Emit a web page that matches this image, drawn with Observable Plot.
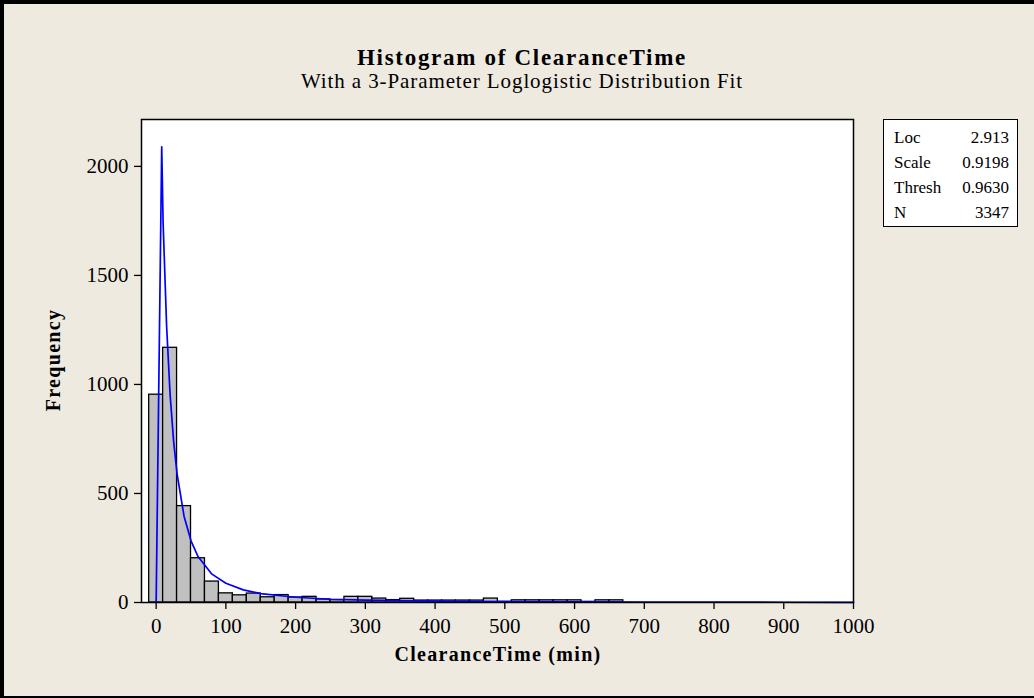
<!DOCTYPE html>
<html>
<head>
<meta charset="utf-8">
<script src="https://cdn.jsdelivr.net/npm/d3@7"></script>
<script src="https://cdn.jsdelivr.net/npm/@observablehq/plot@0.6"></script>
<style>
  html, body { margin: 0; padding: 0; }
  body { width: 1034px; height: 698px; background: #eeeae0; position: relative; overflow: hidden;
         font-family: "Liberation Serif", "Times New Roman", serif; color: #000; }
  #border { position: absolute; left: 0; top: 0; width: 1034px; height: 698px; box-sizing: border-box;
            border-left: 4px solid #000; border-top: 4px solid #000; border-bottom: 2px solid #000; pointer-events: none; }
  #chart { position: absolute; left: 0; top: 0; }
  .title { position: absolute; left: 0; width: 1044px; text-align: center; white-space: nowrap; }
  #t1 { top: 45px; font-size: 23px; font-weight: bold; letter-spacing: 1.7px; }
  #t2 { top: 69px; font-size: 21px; letter-spacing: 0.9px; }
  #xlab { position: absolute; left: 141px; width: 714px; top: 643px; text-align: center; font-size: 20px; font-weight: bold; letter-spacing: 1.3px; }
  #ylab { position: absolute; left: 53px; top: 360px; transform: translate(-50%, -50%) rotate(-90deg); font-size: 20px; font-weight: bold; letter-spacing: 1.3px; white-space: nowrap; }
  #legend { position: absolute; left: 883px; top: 119px; width: 135px; height: 108px; box-sizing: border-box; border: 1.5px solid #000;
            background: #fff; padding: 5px 8px 0 10px; font-size: 17px; line-height: 25px; }
  #legend .row { display: flex; justify-content: space-between; }
</style>
</head>
<body>
<div id="chart"></div>
<div class="title" id="t1">Histogram of ClearanceTime</div>
<div class="title" id="t2">With a 3-Parameter Loglogistic Distribution Fit</div>
<div id="xlab">ClearanceTime (min)</div>
<div id="ylab">Frequency</div>
<div id="legend"></div>
<div id="border"></div>
<script>
// Histogram bins (centers, width 20) and frequencies
const binCenters = [0, 20, 40, 60, 80, 100, 120, 140, 160, 180, 200, 220, 240, 260, 280, 300, 320, 340,
                    360, 380, 400, 420, 440, 460, 480, 500, 520, 540, 560, 580, 600, 620, 640, 660];
const frequencies = [953, 1168, 442, 203, 96, 42, 33, 41, 24, 34, 23, 26, 14, 11, 26, 26, 18, 11,
                     17, 9, 9, 9, 9, 9, 18, 3, 10, 10, 10, 10, 10, 3, 10, 10];
const binWidth = 20;

// Fitted 3-parameter loglogistic curve
const curveX = [0, 8, 10, 15, 20, 25, 30, 40, 50, 60, 80, 100, 125, 150, 200, 250, 300, 400, 500, 600, 700, 800, 900, 1000];
const curveY = [0, 2090, 1740, 1268, 955, 741, 590, 396, 283, 211, 130, 88, 58, 41, 24, 15, 11, 6, 4, 2.6, 1.9, 1.5, 1.2, 1.0];

// Tick values
const xTicks = [0, 100, 200, 300, 400, 500, 600, 700, 800, 900, 1000];
const yTicks = [0, 500, 1000, 1500, 2000];

// Legend table
const legendLabels = ["Loc", "Scale", "Thresh", "N"];
const legendValues = ["2.913", "0.9198", "0.9630", "3347"];

const bins = binCenters.map((c, i) => ({x1: c - binWidth / 2, x2: c + binWidth / 2, y: frequencies[i]}));
const curve = curveX.map((x, i) => ({x, y: curveY[i]}));

const plot = Plot.plot({
  width: 1034,
  height: 698,
  marginLeft: 141,
  marginRight: 181,
  marginTop: 119,
  marginBottom: 96,
  style: {background: "transparent", fontFamily: "Liberation Serif, Times New Roman, serif", fontSize: "21px", color: "#000", overflow: "visible"},
  x: {domain: [-21, 1000]},
  y: {domain: [0, 2215]},
  marks: [
    Plot.frame({fill: "#fff", stroke: null}),
    Plot.rectY(bins, {x1: "x1", x2: "x2", y: "y", fill: "#c0c0c0", stroke: "#000", strokeWidth: 1.3, insetLeft: 0, insetRight: 0}),
    Plot.line(curve, {x: "x", y: "y", stroke: "#0000ff", strokeWidth: 1.7}),
    Plot.frame({stroke: "#000", strokeWidth: 1.5}),
    Plot.axisX({ticks: xTicks, tickFormat: d => String(d), tickSize: 7, tickPadding: 9, label: null, stroke: "#000", strokeWidth: 1.3}),
    Plot.axisY({ticks: yTicks, tickFormat: d => String(d), tickSize: 7, tickPadding: 6, label: null, stroke: "#000", strokeWidth: 1.3})
  ]
});
document.getElementById("chart").appendChild(plot);

const legend = document.getElementById("legend");
legendLabels.forEach((lab, i) => {
  const row = document.createElement("div");
  row.className = "row";
  const a = document.createElement("span"); a.textContent = lab;
  const b = document.createElement("span"); b.textContent = legendValues[i];
  row.appendChild(a); row.appendChild(b);
  legend.appendChild(row);
});
</script>
</body>
</html>
